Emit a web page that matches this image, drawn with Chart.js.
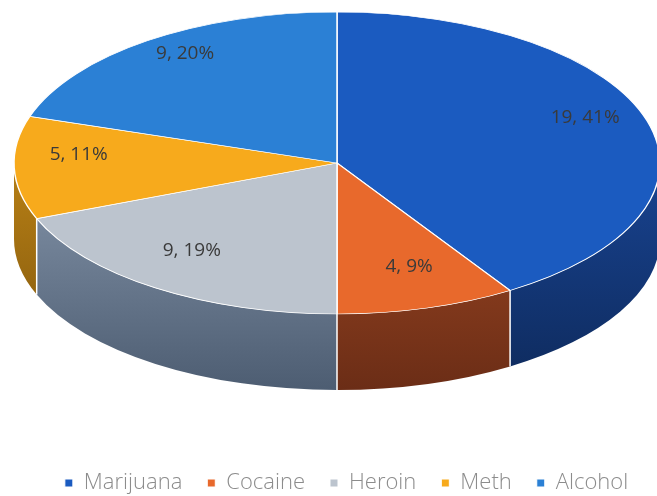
<!DOCTYPE html>
<html>
<head>
<meta charset="utf-8">
<script src="https://cdn.jsdelivr.net/npm/chart.js@4.4.0/dist/chart.umd.min.js"></script>
<style>
  html, body { margin: 0; padding: 0; background: #fff; }
  #wrap { width: 657px; height: 496px; position: relative; }
</style>
</head>
<body>
<div id="wrap"><canvas id="myChart"></canvas></div>
<script>
// data
var categories = ["Marijuana", "Cocaine", "Heroin", "Meth", "Alcohol"];
var counts = [19, 4, 9, 5, 9];
var percents = [41, 9, 19, 11, 20];

var topColors = ['#1b5bc0', '#e8692c', '#bcc4ce', '#f7aa1c', '#2b80d5'];
var sideTop = ['#17408a', '#9a4522', '#7d8da2', '#b07a14', '#1d5a9c'];
var sideBottom = ['#0e2a5c', '#6b2d16', '#4d5d72', '#7a520c', '#123e70'];

// where the top face of the pie sits (ellipse) and the thickness of the disc
var CX = 337, CY = 163, RX = 323, RY = 151, DEPTH = 76;

function ellPoint(a, dy) {
  return { x: CX + RX * Math.cos(a), y: CY + RY * Math.sin(a) + (dy || 0) };
}

var pie3d = {
  id: 'pie3d',
  beforeDatasetsDraw: function (chart) {
    var ctx = chart.ctx;
    var arcs = chart.getDatasetMeta(0).data;

    // side wall, only the front half (angles 0..PI) shows
    arcs.forEach(function (arc, i) {
      var p = arc.getProps(['startAngle', 'endAngle'], true);
      var a0 = Math.max(p.startAngle, 0), a1 = Math.min(p.endAngle, Math.PI);
      if (a1 <= a0) return;
      var e1 = ellPoint(a1, DEPTH);
      ctx.save();
      ctx.beginPath();
      ctx.ellipse(CX, CY, RX, RY, 0, a0, a1, false);
      ctx.lineTo(e1.x, e1.y);
      ctx.ellipse(CX, CY + DEPTH, RX, RY, 0, a1, a0, true);
      ctx.closePath();
      var g = ctx.createLinearGradient(0, CY + RY * 0.2, 0, CY + RY + DEPTH);
      g.addColorStop(0, sideTop[i]);
      g.addColorStop(1, sideBottom[i]);
      ctx.fillStyle = g;
      ctx.fill();
      ctx.restore();
    });

    // white seams on the wall
    ctx.save();
    ctx.strokeStyle = '#ffffff';
    ctx.lineWidth = 1.5;
    arcs.forEach(function (arc) {
      var a = arc.getProps(['endAngle'], true).endAngle;
      if (a > 0 && a < Math.PI) {
        var t = ellPoint(a, 0), b = ellPoint(a, DEPTH);
        ctx.beginPath();
        ctx.moveTo(t.x, t.y);
        ctx.lineTo(b.x, b.y);
        ctx.stroke();
      }
    });
    ctx.restore();

    // squash the library's round pie onto the ellipse
    var a = arcs[0];
    var r = a.outerRadius;
    ctx.save();
    ctx.translate(CX, CY);
    ctx.scale(RX / r, RY / r);
    ctx.translate(-a.x, -a.y);
  },
  afterDatasetsDraw: function (chart) {
    var ctx = chart.ctx;
    ctx.restore();
    var arcs = chart.getDatasetMeta(0).data;
    ctx.save();
    ctx.font = '19px "Open Sans"';
    ctx.fillStyle = '#3a3a3a';
    ctx.textAlign = 'center';
    ctx.textBaseline = 'middle';
    arcs.forEach(function (arc, i) {
      var p = arc.getProps(['startAngle', 'endAngle'], true);
      var mid = (p.startAngle + p.endAngle) / 2;
      var pt = { x: CX + RX * 0.8 * Math.cos(mid), y: CY - 12 + RY * 0.8 * Math.sin(mid) };
      ctx.fillText(counts[i] + ', ' + percents[i] + '%', pt.x, pt.y);
    });
    ctx.restore();
  }
};

var ctx = document.getElementById('myChart').getContext('2d');
var chart = new Chart(ctx, {
  type: 'pie',
  data: {
    labels: categories,
    datasets: [{
      data: percents,
      backgroundColor: topColors,
      borderColor: '#ffffff',
      borderWidth: 1,
      clip: false
    }]
  },
  options: {
    responsive: true,
    maintainAspectRatio: false,
    animation: false,
    events: [],
    layout: { padding: { top: 10, bottom: -8, left: 18, right: -18 } },
    plugins: {
      tooltip: { enabled: false },
      legend: {
        position: 'bottom',
        labels: {
          usePointStyle: true,
          pointStyle: 'rect',
          boxWidth: 8,
          boxHeight: 8,
          padding: 25,
          color: '#8c8c8c',
          font: { family: 'Open Sans', size: 22, weight: '300' }
        }
      }
    }
  },
  plugins: [pie3d]
});
</script>
</body>
</html>
